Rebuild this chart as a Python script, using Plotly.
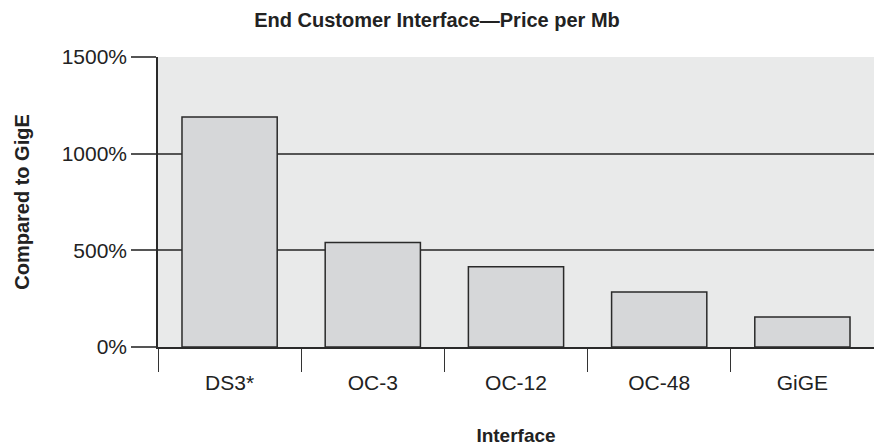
import plotly.graph_objects as go

categories = ["DS3*", "OC-3", "OC-12", "OC-48", "GiGE"]
values = [1190, 540, 415, 285, 155]
y_ticks = [0, 500, 1000, 1500]
y_tick_labels = ["0%", "500%", "1000%", "1500%"]

NARROW = "Liberation Sans Narrow, Arial Narrow, Liberation Sans, Arial, sans-serif"
REG = "Liberation Sans, Arial, sans-serif"

fig = go.Figure(go.Bar(
    x=categories, y=values,
    marker=dict(color="#d6d7d9", line=dict(color="#2a2a2a", width=1.5)),
    hoverinfo="skip",
))

fig.update_layout(
    width=874, height=446,
    margin=dict(l=158, r=0, t=57, b=99),
    paper_bgcolor="white", plot_bgcolor="#e9eaea",
    bargap=0.335,
    showlegend=False,
    title=dict(text="<b>End Customer Interface\u2014Price per Mb</b>",
               x=0.5, xanchor="center", yref="container", y=0.955, yanchor="middle",
               font=dict(family=NARROW, size=20, color="#222")),
)

fig.update_xaxes(
    type="category", automargin=False,
    showline=True, linecolor="#2a2a2a", linewidth=2,
    ticks="outside", tickson="boundaries", ticklen=23,
    tickcolor="#333", tickwidth=1.2,
    showgrid=False,
    tickfont=dict(family=NARROW, size=21, color="#222"),
    ticklabelstandoff=16,
    title=dict(text="<b>Interface</b>", standoff=44,
               font=dict(family=NARROW, size=19, color="#222")),
)

fig.update_yaxes(
    range=[0, 1500], automargin=False,
    tickvals=y_ticks, ticktext=y_tick_labels,
    showline=True, linecolor="#2a2a2a", linewidth=1.5,
    ticks="outside", ticklen=25, tickcolor="#555", tickwidth=1.5,
    showgrid=True, gridcolor="#555", gridwidth=1.5,
    zeroline=False,
    tickfont=dict(family=REG, size=21, color="#222"),
    title=dict(text="<b>Compared to GigE</b>", standoff=27,
               font=dict(family=NARROW, size=20, color="#222")),
)

fig.write_html("out.html", config={"displayModeBar": False},
               post_script="document.body.style.margin='0';")
